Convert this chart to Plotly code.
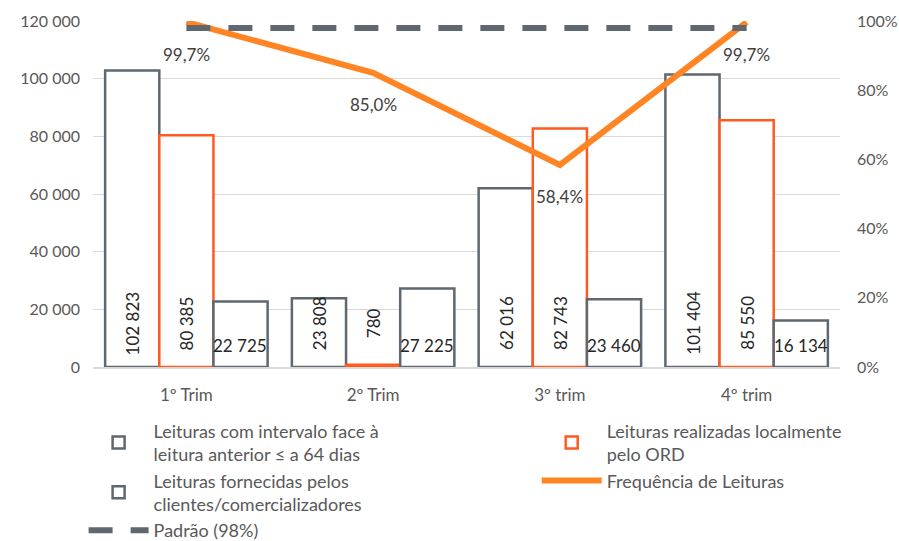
import plotly.graph_objects as go

categories = ["1º Trim", "2º Trim", "3º trim", "4º trim"]
intervalo = [102823, 23808, 62016, 101404]
local_ord = [80385, 780, 82743, 85550]
fornecidas = [22725, 27225, 23460, 16134]
frequencia = [0.997, 0.850, 0.584, 0.997]
padrao = [0.98, 0.98, 0.98, 0.98]

GRAY = "#5f6770"
RED = "#ff5a1f"
ORANGE = "#ff8524"
TXT = "#595959"
FONT = "Lato"
FS = 17
YFS = 16
LFS = 18

def fmt(v):
    return f"{v:,}".replace(",", " ")

def pct(v):
    return f"{v*100:.1f}%".replace(".", ",")

fig = go.Figure()
fig.add_trace(go.Bar(x=categories, y=intervalo, name="Leituras com intervalo face à<br>leitura anterior ≤ a 64 dias",
                     marker=dict(color="white", line=dict(color=GRAY, width=2.5)), legend="legend"))
fig.add_trace(go.Bar(x=categories, y=local_ord, name="Leituras realizadas localmente<br>pelo ORD",
                     marker=dict(color="white", line=dict(color=RED, width=2.5)), legend="legend2"))
fig.add_trace(go.Bar(x=categories, y=fornecidas, name="Leituras fornecidas pelos<br>clientes/comercializadores",
                     marker=dict(color="white", line=dict(color=GRAY, width=2.5)), legend="legend"))
fig.add_trace(go.Scatter(x=categories, y=frequencia, name="Frequência de Leituras", yaxis="y2",
                         mode="lines", line=dict(color=ORANGE, width=6), cliponaxis=False, legend="legend2"))
fig.add_trace(go.Scatter(x=categories, y=padrao, name="Padrão (98%)", yaxis="y2", mode="lines",
                         line=dict(color=GRAY, width=6, dash="24px,18px"), cliponaxis=False, legend="legend"))

annotations = []
shifts = [-54, 0, 54]
for si, series in enumerate([intervalo, local_ord, fornecidas]):
    for ci, cat in enumerate(categories):
        v = series[ci]
        if si < 2:
            annotations.append(dict(x=cat, y=0, xref="x", yref="y", text=fmt(v), showarrow=False,
                                    textangle=-90, xshift=shifts[si], yshift=44, yanchor="middle",
                                    font=dict(family=FONT, size=FS, color="#262626")))
        else:
            annotations.append(dict(x=cat, y=0, xref="x", yref="y", text=fmt(v), showarrow=False,
                                    xshift=shifts[si], yshift=22, yanchor="middle",
                                    font=dict(family=FONT, size=FS, color="#262626")))
for ci, cat in enumerate(categories):
    annotations.append(dict(x=cat, y=frequencia[ci], xref="x", yref="y2", text=pct(frequencia[ci]),
                            showarrow=False, yshift=-32, yanchor="middle",
                            font=dict(family=FONT, size=FS, color="#404040")))

leg_common = dict(orientation="v", xref="container", yref="container", xanchor="left",
                  y=0.2375, yanchor="top", traceorder="normal", itemwidth=60,
                  font=dict(family=FONT, size=LFS, color=TXT), bgcolor="rgba(0,0,0,0)")

fig.update_layout(
    width=899, height=541,
    margin=dict(l=93, r=59, t=21, b=174, autoexpand=False),
    paper_bgcolor="white", plot_bgcolor="white",
    separators=", ",
    barmode="group", bargap=0.13, bargroupgap=0,
    font=dict(family=FONT, size=FS, color=TXT),
    xaxis=dict(showgrid=False, showline=True, linecolor="#d9d9d9", linewidth=1.5, ticks="",
               ticklabelstandoff=12, tickfont=dict(size=FS, color=TXT)),
    yaxis=dict(range=[0, 120000], dtick=20000, tickformat=",", showgrid=True, gridcolor="#d9d9d9",
               zeroline=False, ticks="", ticklabelstandoff=12, tickfont=dict(size=YFS, color=TXT)),
    yaxis2=dict(range=[0, 1], dtick=0.2, tickformat=".0%", overlaying="y", side="right",
                showgrid=False, zeroline=False, ticks="", ticklabelstandoff=16,
                tickfont=dict(size=YFS, color=TXT)),
    legend=dict(x=0.093, **leg_common),
    legend2=dict(x=0.597, **leg_common),
    annotations=annotations,
)
fig.write_html("out.html", config={"displayModeBar": False},
               post_script="document.body.style.margin='0';document.body.style.padding='0';")
